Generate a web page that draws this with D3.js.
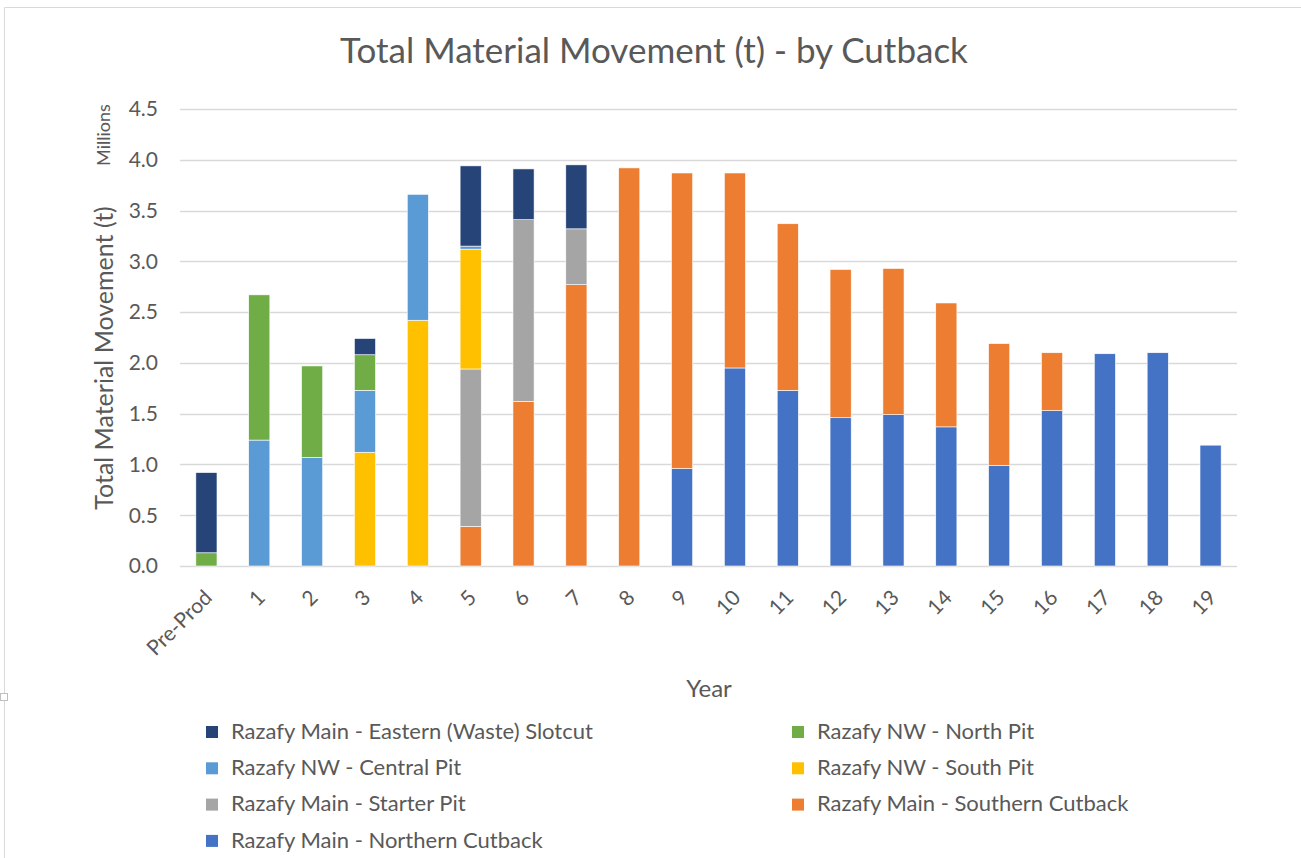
<!DOCTYPE html>
<html>
<head>
<meta charset="utf-8">
<script src="https://cdn.jsdelivr.net/npm/d3@7"></script>
<style>
  body { margin: 0; background: #fff; }
  svg text { font-family: Lato, "Open Sans", sans-serif; fill: #595959; }
</style>
</head>
<body>
<div id="chart"></div>
<script>
// years on the x axis
let years = ["Pre-Prod", "1", "2", "3", "4", "5", "6", "7", "8", "9", "10", "11", "12", "13", "14", "15", "16", "17", "18", "19"];

// series in stacking order, bottom first (values in millions of tonnes)
let seriesNames = [
    "Razafy Main - Northern Cutback",
    "Razafy Main - Southern Cutback",
    "Razafy Main - Starter Pit",
    "Razafy NW - South Pit",
    "Razafy NW - Central Pit",
    "Razafy NW - North Pit",
    "Razafy Main - Eastern (Waste) Slotcut"
];
let colors = ["#4472C4", "#ED7D31", "#A5A5A5", "#FFC000", "#5B9BD5", "#70AD47", "#264478"];

let northernCutback = [0, 0, 0, 0, 0, 0, 0, 0, 0, 0.96, 1.95, 1.73, 1.46, 1.49, 1.37, 0.99, 1.53, 2.09, 2.10, 1.19];
let southernCutback = [0, 0, 0, 0, 0, 0.39, 1.62, 2.77, 3.92, 2.91, 1.92, 1.64, 1.46, 1.44, 1.22, 1.20, 0.57, 0, 0, 0];
let starterPit      = [0, 0, 0, 0, 0, 1.55, 1.79, 0.55, 0, 0, 0, 0, 0, 0, 0, 0, 0, 0, 0, 0];
let southPit        = [0, 0, 0, 1.12, 2.42, 1.18, 0, 0, 0, 0, 0, 0, 0, 0, 0, 0, 0, 0, 0, 0];
let centralPit      = [0, 1.24, 1.07, 0.61, 1.24, 0.03, 0, 0, 0, 0, 0, 0, 0, 0, 0, 0, 0, 0, 0, 0];
let northPit        = [0.13, 1.43, 0.90, 0.35, 0, 0, 0, 0, 0, 0, 0, 0, 0, 0, 0, 0, 0, 0, 0, 0];
let easternSlotcut  = [0.79, 0, 0, 0.16, 0, 0.79, 0.50, 0.63, 0, 0, 0, 0, 0, 0, 0, 0, 0, 0, 0, 0];

let yTicks = [0, 0.5, 1.0, 1.5, 2.0, 2.5, 3.0, 3.5, 4.0, 4.5];

// legend layout order (two columns, row by row)
let legendOrder = [
    "Razafy Main - Eastern (Waste) Slotcut", "Razafy NW - North Pit",
    "Razafy NW - Central Pit", "Razafy NW - South Pit",
    "Razafy Main - Starter Pit", "Razafy Main - Southern Cutback",
    "Razafy Main - Northern Cutback"
];

let allSeries = [northernCutback, southernCutback, starterPit, southPit, centralPit, northPit, easternSlotcut];

let table = years.map((y, i) => {
    let row = { year: y };
    seriesNames.forEach((s, k) => { row[s] = allSeries[k][i]; });
    return row;
});

let width = 1301, height = 858;
let margin = { left: 180, right: 64, top: 109, bottom: 292 };

let svg = d3.select("#chart").append("svg")
    .attr("width", width)
    .attr("height", height);

// chart frame
svg.append("path")
    .attr("d", `M4.5,${height} V7.5 H${width}`)
    .attr("fill", "none")
    .attr("stroke", "#d9d9d9")
    .attr("stroke-width", 1);
svg.append("rect")
    .attr("x", 0.5).attr("y", 693.5)
    .attr("width", 7).attr("height", 7)
    .attr("fill", "#fff")
    .attr("stroke", "#bfbfbf");

let x = d3.scaleBand()
    .domain(years)
    .range([margin.left, width - margin.right])
    .paddingInner(0.6)
    .paddingOuter(0.3);

let y = d3.scaleLinear()
    .domain([0, 4.5])
    .range([height - margin.bottom, margin.top]);

let color = d3.scaleOrdinal().domain(seriesNames).range(colors);

// gridlines
svg.append("g")
    .selectAll("line")
    .data(yTicks)
    .enter().append("line")
    .attr("x1", margin.left)
    .attr("x2", width - margin.right)
    .attr("y1", d => Math.round(y(d)) + 0.5)
    .attr("y2", d => Math.round(y(d)) + 0.5)
    .attr("stroke", "#d9d9d9")
    .attr("stroke-width", 1.3);

// y tick labels
svg.append("g")
    .selectAll("text")
    .data(yTicks)
    .enter().append("text")
    .attr("x", 158)
    .attr("y", d => y(d))
    .attr("dy", "0.35em")
    .attr("text-anchor", "end")
    .attr("font-size", 21)
    .text(d => d3.format(".1f")(d));

// stacked bars
let stacked = d3.stack().keys(seriesNames)(table);

svg.append("g")
    .selectAll("g")
    .data(stacked)
    .enter().append("g")
    .attr("fill", d => color(d.key))
    .selectAll("rect")
    .data(d => d.filter(p => p[1] - p[0] > 0))
    .enter().append("rect")
    .attr("x", d => x(d.data.year))
    .attr("width", x.bandwidth())
    .attr("y", d => y(d[1]))
    .attr("height", d => y(d[0]) - y(d[1]))
    .attr("stroke", "#fff")
    .attr("stroke-width", 0.6);

// x tick labels, rotated
svg.append("g")
    .selectAll("text")
    .data(years)
    .enter().append("text")
    .attr("text-anchor", "end")
    .attr("font-size", 21)
    .attr("transform", d => `translate(${x(d) + x.bandwidth() / 2 + 7},${height - margin.bottom + 33}) rotate(-45)`)
    .text(d => d);

// title
svg.append("text")
    .attr("x", 654)
    .attr("y", 63)
    .attr("text-anchor", "middle")
    .attr("font-size", 35)
    .text("Total Material Movement (t) - by Cutback");

// axis titles
svg.append("text")
    .attr("transform", `translate(113,358) rotate(-90)`)
    .attr("text-anchor", "middle")
    .attr("font-size", 25)
    .text("Total Material Movement (t)");

svg.append("text")
    .attr("transform", `translate(110,135) rotate(-90)`)
    .attr("text-anchor", "middle")
    .attr("font-size", 18)
    .text("Millions");

svg.append("text")
    .attr("x", 709)
    .attr("y", 697)
    .attr("text-anchor", "middle")
    .attr("font-size", 24)
    .text("Year");

// legend
let legend = svg.append("g")
    .selectAll("g")
    .data(legendOrder)
    .enter().append("g")
    .attr("transform", (d, i) => `translate(${i % 2 === 0 ? 206 : 792},${731 + Math.floor(i / 2) * 36.3})`);

legend.append("rect")
    .attr("x", 0)
    .attr("y", -5)
    .attr("width", 12)
    .attr("height", 12)
    .attr("fill", d => color(d));

legend.append("text")
    .attr("x", 25)
    .attr("y", 0)
    .attr("dy", "0.35em")
    .attr("font-size", 22)
    .text(d => d);
</script>
</body>
</html>
